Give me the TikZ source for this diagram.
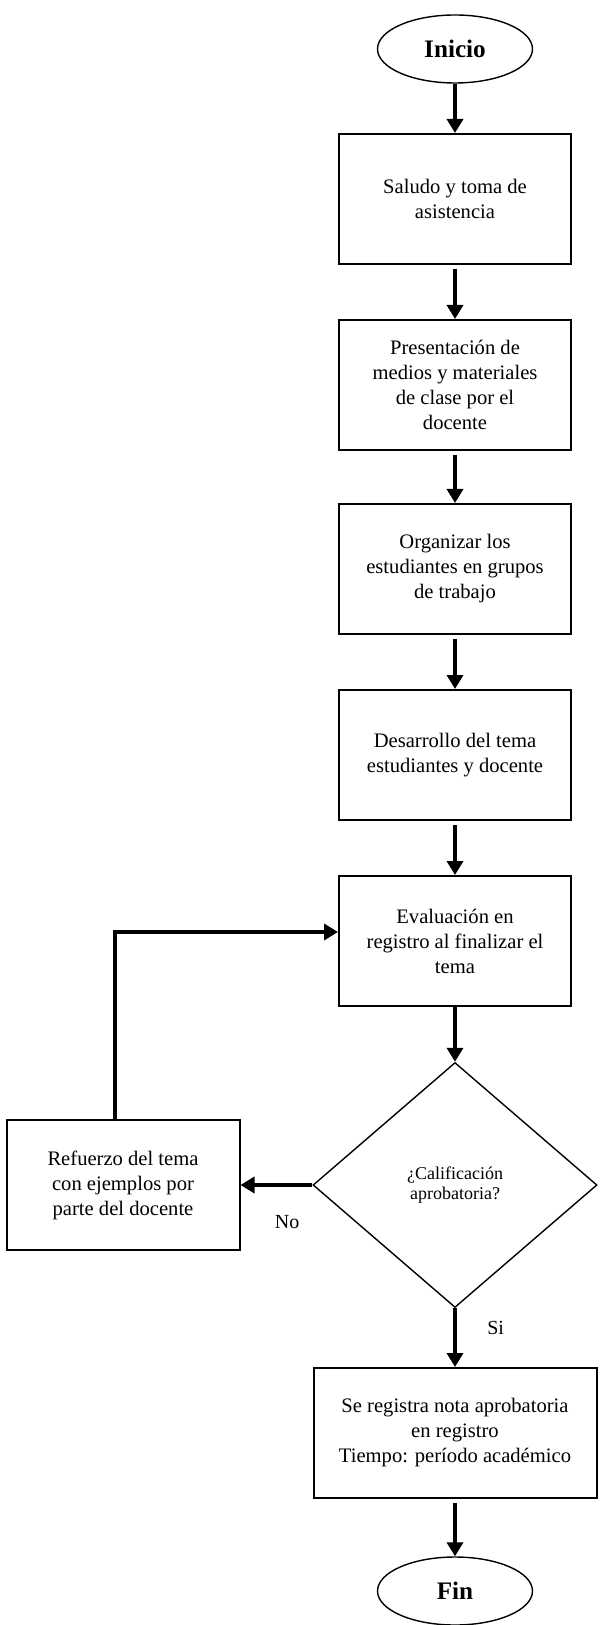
\documentclass[tikz,border=0pt]{standalone}
\usepackage{fontspec}
\setmainfont{Liberation Serif}
\usetikzlibrary{shapes.geometric,arrows.meta,positioning}
\tikzset{
node distance=90pt, % distance between the boxes of the column
terminal/.style={ellipse, draw, line width=0.7pt, minimum width=77.5pt, minimum height=34pt, inner sep=0pt, font=\fontsize{12.6}{14}\selectfont\bfseries},
process/.style={rectangle, draw, line width=1pt, minimum width=116pt, minimum height=65pt, align=center, font=\fontsize{10.3}{12.5}\selectfont},
decision/.style={diamond, draw, line width=0.7pt, minimum width=142pt, minimum height=122.5pt, inner sep=0pt, align=center, font=\fontsize{9}{10.2}\selectfont},
flow/.style={line width=2.3pt, -{Triangle[length=7pt,width=8pt]}},
branch/.style={font=\fontsize{10}{12}\selectfont, inner sep=2pt},
}

\begin{document}
\begin{tikzpicture}[x=0.5pt,y=-0.5pt,on grid]
    \useasboundingbox (0,0) rectangle (603,1625);
    \node[terminal] (inicio) at (455,49) {Inicio};
    \node[process] (saludo) [below=75pt of inicio] {Saludo y toma de\\asistencia};
    \node[process] (presentacion) [below=93pt of saludo] {Presentación de\\medios y materiales\\de clase por el\\docente};
    \node[process] (organizar) [below=92pt of presentacion] {Organizar los\\estudiantes en grupos\\de trabajo};
    \node[process] (desarrollo) [below=93pt of organizar] {Desarrollo del tema\\estudiantes y docente};
    \node[process] (evaluacion) [below=93pt of desarrollo] {Evaluación en\\registro al finalizar el\\tema};
    \node[decision] (pregunta) [below=122pt of evaluacion] {¿Calificación\\aprobatoria?};
    \node[process, minimum width=141.5pt] (registro) [below=124pt of pregunta] {Se registra nota aprobatoria\\en registro\\Tiempo: período académico};
    \node[terminal] (fin) [below=79pt of registro] {Fin};
    \node[process, minimum width=116.5pt] (refuerzo) [left=166pt of pregunta] {Refuerzo del tema\\con ejemplos por\\parte del docente};
    \path[flow]
    (inicio) edge (saludo)
    (saludo) edge[shorten <=2pt] (presentacion)
    (presentacion) edge[shorten <=2pt] (organizar)
    (organizar) edge[shorten <=2pt] (desarrollo)
    (desarrollo) edge[shorten <=2pt] (evaluacion)
    (evaluacion) edge (pregunta)
    (pregunta) edge node[branch, right=13pt, pos=0.33] {Si} (registro)
    (registro) edge[shorten <=2pt] (fin)
    (pregunta) edge node[branch, below=12pt, pos=0.35] {No} (refuerzo);
    % back to the evaluation
    \draw[flow] ([xshift=-4pt]refuerzo.north) |- ([yshift=4.5pt]evaluacion.west);
\end{tikzpicture}
\end{document}
